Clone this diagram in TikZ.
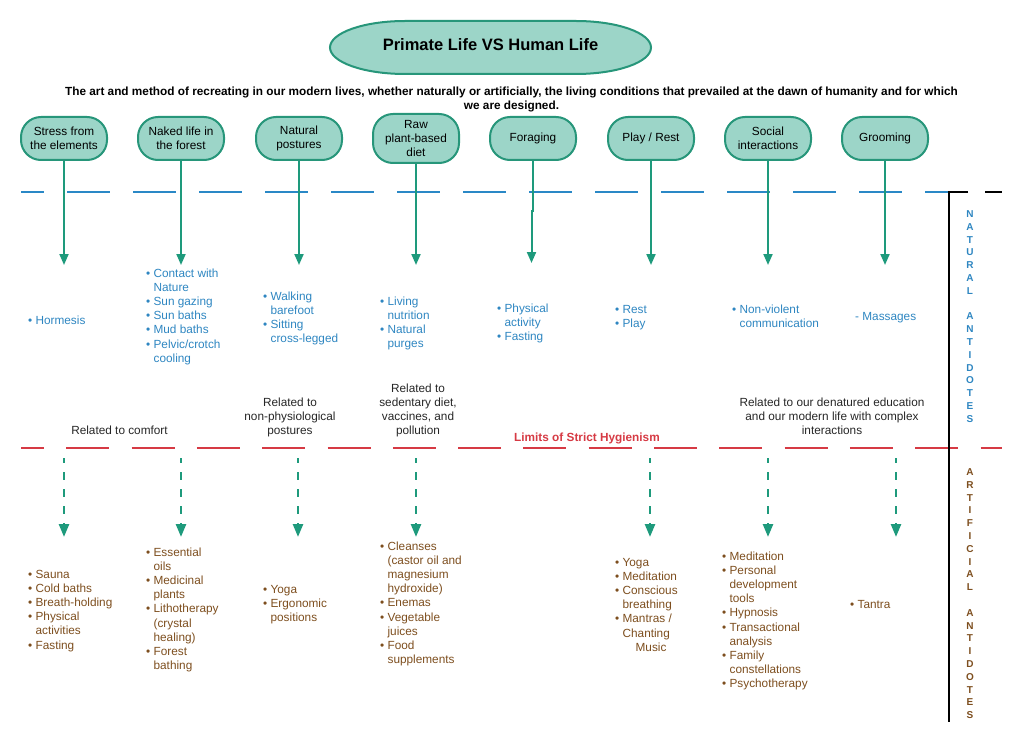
\documentclass[tikz,border=0pt]{standalone}
\usepackage{fontspec}
\setmainfont{Liberation Sans}
\usetikzlibrary{arrows.meta,positioning}

\definecolor{boxfill}{HTML}{9CD5C8}
\definecolor{boxline}{HTML}{27967A}
\definecolor{arrowgreen}{HTML}{1E9A7C}
\definecolor{lineblue}{HTML}{2A88C6}
\definecolor{natblue}{HTML}{2E86C1}
\definecolor{limitred}{HTML}{D63A44}
\definecolor{artbrown}{HTML}{7D4E1E}
\definecolor{labelgray}{HTML}{262626}

% list helpers
\newcommand{\itm}{\textbullet\ }
\newcommand{\cnt}{\hphantom{\textbullet\ }}
\newcommand{\lst}[1]{\begin{tabular}[t]{@{}l@{}}#1\end{tabular}}
\newcommand{\ctr}[1]{\begin{tabular}[t]{@{}c@{}}#1\end{tabular}}

\begin{document}
\begin{tikzpicture}[x=1pt,y=-1pt,
  category/.style={draw=boxline,fill=boxfill,line width=2pt,rounded corners=20pt,
    minimum width=86pt,minimum height=43pt,inner sep=0pt,align=center,
    font=\fontsize{11.8}{14}\selectfont},
  natarrow/.style={draw=arrowgreen,line width=2pt,-{Triangle[length=11pt,width=9pt]}},
  artarrow/.style={draw=arrowgreen,line width=2.5pt,dash pattern=on 8pt off 9pt,
    dash phase=3pt,-{Triangle[length=13pt,width=10pt]}},
  natlist/.style={anchor=base west,inner sep=0pt,text=natblue,
    font=\fontsize{11.8}{14.2}\selectfont},
  artlist/.style={natlist,text=artbrown},
  relabel/.style={anchor=base,inner sep=0pt,text=labelgray,
    font=\fontsize{11.8}{14.2}\selectfont},
  sidetext/.style={anchor=base,inner sep=0pt,font=\fontsize{10}{12.8}\selectfont\bfseries}]
\useasboundingbox (0,0) rectangle (1024,743);

% title
\draw[draw=boxline,fill=boxfill,line width=2pt] (405,21) .. controls (363.6,21) and (330,32.9) .. (330,47.5)
  .. controls (330,62.1) and (363.6,74) .. (405,74) -- (576,74)
  .. controls (617.4,74) and (651,62.1) .. (651,47.5)
  .. controls (651,32.9) and (617.4,21) .. (576,21) -- cycle;
\node[anchor=base,inner sep=0pt,font=\fontsize{16.5}{20}\selectfont\bfseries] (title) at (490.5,51) {Primate Life VS Human Life};
\node[anchor=base,inner sep=0pt,font=\fontsize{11.8}{14}\selectfont\bfseries] (tagline) at (511.5,96)
  {\ctr{The art and method of recreating in our modern lives, whether naturally or artificially, the living conditions that prevailed at the dawn of humanity and for which\\we are designed.}};

% categories
\node[category] (stress) at (64,138.5) {Stress from\\the elements};
\node[category] (naked) at (181,138.5) {Naked life in\\the forest};
\node[category] (postures) at (299,138.5) {Natural\\postures};
\node[category,minimum height=49pt] (rawdiet) at (416,138.5) {Raw\\plant-based\\diet};
\node[category] (foraging) at (533,138.5) {Foraging};
\node[category] (playrest) at (651,138.5) {Play / Rest};
\node[category] (social) at (768,138.5) {Social\\interactions};
\node[category] (grooming) at (885,138.5) {Grooming};

% separators
\draw[draw=lineblue,line width=2.5pt,dash pattern=on 43pt off 23pt,dash phase=20pt] (21,192) -- (949,192);
\draw[draw=limitred,line width=2.5pt,dash pattern=on 43pt off 22.3pt,dash phase=20pt] (21,448) -- (1002,448);
\draw[line width=2.5pt] (968,192) -- (949,192) -- (949,722);
\draw[line width=2.5pt] (985,192) -- (1002,192);

% natural antidotes
\foreach \c in {stress,naked,postures,rawdiet,playrest,social,grooming}{
  \coordinate (\c-tip) at (\c.south |- 0,265);
  \draw[natarrow] (\c.south) -- (\c-tip);
}
\coordinate (foraging-bend) at (533,211);
\coordinate (foraging-tip) at (531.5,263);
\draw[natarrow] (foraging.south) -- (foraging-bend) -- (foraging-tip |- foraging-bend) -- (foraging-tip);

\node[natlist] (hormesis) at (28,324) {\lst{\itm Hormesis}};
\node[natlist] (contact) at (146,277) {\lst{\itm Contact with\\\cnt Nature\\\itm Sun gazing\\\itm Sun baths\\\itm Mud baths\\\itm Pelvic/crotch\\\cnt cooling}};
\node[natlist] (walking) at (263,300) {\lst{\itm Walking\\\cnt barefoot\\\itm Sitting\\\cnt cross-legged}};
\node[natlist] (living) at (380,305) {\lst{\itm Living\\\cnt nutrition\\\itm Natural\\\cnt purges}};
\node[natlist] (activity) at (497,312) {\lst{\itm Physical\\\cnt activity\\\itm Fasting}};
\node[natlist] (rest) at (615,313) {\lst{\itm Rest\\\itm Play}};
\node[natlist] (nonviolent) at (732,313) {\lst{\itm Non-violent\\\cnt communication}};
\node[natlist] (massages) at (855,320) {\lst{- Massages}};

% what goes wrong
\node[relabel] (comfort) at (119.5,434) {\ctr{Related to comfort}};
\node[relabel] (nonphys) at (290,406) {\ctr{Related to\\non-physiological\\postures}};
\node[relabel] (sedentary) at (418,392) {\ctr{Related to\\sedentary diet,\\vaccines, and\\pollution}};
\node[relabel] (education) at (832,406) {\ctr{Related to our denatured education\\and our modern life with complex\\interactions}};
\node[anchor=base,inner sep=0pt,text=limitred,font=\fontsize{11.8}{14}\selectfont\bfseries] (limits) at (587,441) {Limits of Strict Hygienism};

% artificial antidotes
\foreach \n/\x in {art1/64,art2/181,art3/298,art4/416,art6/650,art7/768,art8/896}{
  \coordinate (\n-top) at (\x,458);
  \coordinate (\n-tip) at (\x,537);
  \draw[artarrow] (\n-top) -- (\n-tip);
}

\node[artlist] (sauna) at (28,578) {\lst{\itm Sauna\\\itm Cold baths\\\itm Breath-holding\\\itm Physical\\\cnt activities\\\itm Fasting}};
\node[artlist] (oils) at (146,556) {\lst{\itm Essential\\\cnt oils\\\itm Medicinal\\\cnt plants\\\itm Lithotherapy\\\cnt (crystal\\\cnt healing)\\\itm Forest\\\cnt bathing}};
\node[artlist] (yoga) at (263,593) {\lst{\itm Yoga\\\itm Ergonomic\\\cnt positions}};
\node[artlist] (cleanses) at (380,550) {\lst{\itm Cleanses\\\cnt (castor oil and\\\cnt magnesium\\\cnt hydroxide)\\\itm Enemas\\\itm Vegetable\\\cnt juices\\\itm Food\\\cnt supplements}};
\node[artlist] (breathing) at (615,566) {\lst{\itm Yoga\\\itm Meditation\\\itm Conscious\\\cnt breathing\\\itm Mantras /\\\cnt Chanting\\\cnt\hspace{13pt}Music}};
\node[artlist] (meditation) at (722,560) {\lst{\itm Meditation\\\itm Personal\\\cnt development\\\cnt tools\\\itm Hypnosis\\\itm Transactional\\\cnt analysis\\\itm Family\\\cnt constellations\\\itm Psychotherapy}};
\node[artlist] (tantra) at (850,608) {\lst{\itm Tantra}};

% side titles
\node[sidetext,text=natblue] (natural) at (970,217.5) {\ctr{N\\A\\T\\U\\R\\A\\L\\ \\A\\N\\T\\I\\D\\O\\T\\E\\S}};
\node[sidetext,text=artbrown] (artificial) at (970,475.5) {\ctr{A\\R\\T\\I\\F\\I\\C\\I\\A\\L\\ \\A\\N\\T\\I\\D\\O\\T\\E\\S}};
\end{tikzpicture}
\end{document}
